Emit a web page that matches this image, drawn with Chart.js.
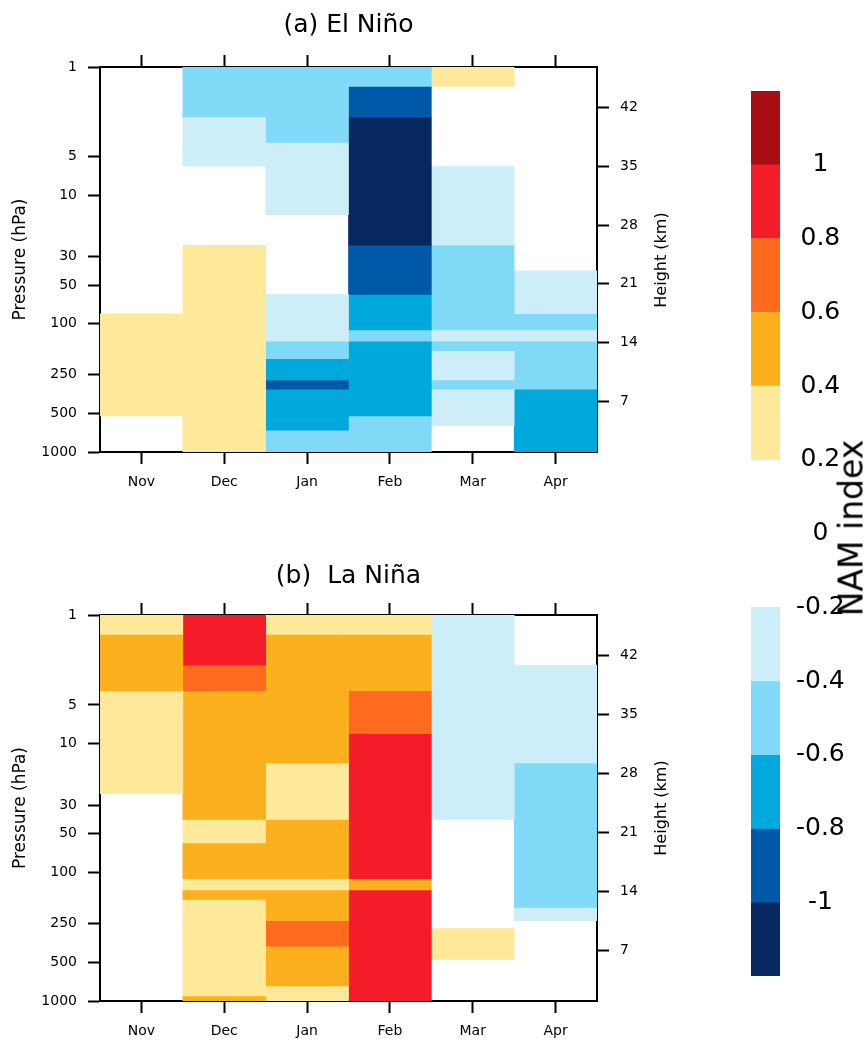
<!DOCTYPE html>
<html>
<head>
<meta charset="utf-8">
<script src="https://cdn.jsdelivr.net/npm/chart.js@4.4.0/dist/chart.umd.min.js"></script>
<style>
  body { margin: 0; background: #fff; }
  #wrap { position: relative; width: 868px; height: 1040px; overflow: hidden; }
  .box { position: absolute; }
  .vlabel { position: absolute; transform: translate(-50%, -50%) rotate(-90deg); font-family: "DejaVu Sans"; white-space: nowrap; color: #000; }
</style>
</head>
<body>
<div id="wrap">
  <div class="box" style="left:0;top:0;width:700px;height:520px"><canvas id="ninoChart"></canvas></div>
  <div class="box" style="left:0;top:548px;width:700px;height:492px"><canvas id="ninaChart"></canvas></div>
  <div class="box" style="left:700px;top:0;width:168px;height:1040px"><canvas id="barChart"></canvas></div>
  <div class="vlabel" style="left:660px;top:260px;font-size:16px">Height (km)</div>
  <div class="vlabel" style="left:660px;top:808px;font-size:16px">Height (km)</div>
  <div class="vlabel" style="left:851px;top:528px;font-size:33px">NAM index</div>
</div>
<script>
// months and model pressure levels (hPa)
const months = ['Nov', 'Dec', 'Jan', 'Feb', 'Mar', 'Apr'];
const levels = [1, 2, 3, 5, 7, 10, 20, 30, 50, 70, 100, 125, 150, 175, 200, 225, 250, 300, 350,
  400, 450, 500, 550, 600, 650, 700, 750, 775, 800, 825, 850, 875, 900, 925, 950, 975, 1000];
const pressureTicks = [1, 5, 10, 30, 50, 100, 250, 500, 1000];
const heightTicks = [7, 14, 21, 28, 35, 42];

// colour bins of the NAM index
const warmEdges = [0.2, 0.4, 0.6, 0.8, 1.0, 1.2];
const warmColors = ['#fee89a', '#fdb01e', '#fe6b1f', '#f41c29', '#a90e15'];
const coolEdges = [-0.2, -0.4, -0.6, -0.8, -1.0, -1.2];
const coolColors = ['#cdeef8', '#80d9f7', '#00a8db', '#0058a8', '#072760'];
const barTicks = [-1, -0.8, -0.6, -0.4, -0.2, 0, 0.2, 0.4, 0.6, 0.8, 1];

// composites: [top level, bottom level, NAM index], blank where not significant
const elNinoNov = [[100, 500, 0.3]];
const elNinoDec = [[1, 2, -0.5], [3, 5, -0.3], [30, 1000, 0.3]];
const elNinoJan = [[1, 3, -0.5], [5, 10, -0.3], [70, 125, -0.3], [150, 175, -0.5], [200, 250, -0.7],
  [300, 300, -0.9], [350, 650, -0.7], [700, 1000, -0.5]];
const elNinoFeb = [[1, 1, -0.5], [2, 2, -0.9], [3, 20, -1.1], [30, 50, -0.9], [70, 100, -0.7],
  [125, 125, -0.5], [150, 500, -0.7], [550, 1000, -0.5]];
const elNinoMar = [[1, 1, 0.3], [7, 20, -0.3], [30, 100, -0.5], [125, 125, -0.3], [150, 150, -0.5],
  [175, 250, -0.3], [300, 300, -0.5], [350, 600, -0.3]];
const elNinoApr = [[50, 70, -0.3], [100, 100, -0.5], [125, 125, -0.3], [150, 300, -0.5], [350, 1000, -0.7]];

const laNinaNov = [[1, 1, 0.3], [2, 3, 0.5], [5, 20, 0.3]];
const laNinaDec = [[1, 2, 0.9], [3, 3, 0.7], [5, 30, 0.5], [50, 50, 0.3], [70, 100, 0.5], [125, 125, 0.3],
  [150, 150, 0.5], [175, 900, 0.3], [925, 1000, 0.5]];
const laNinaJan = [[1, 1, 0.3], [2, 10, 0.5], [20, 30, 0.3], [50, 100, 0.5], [125, 125, 0.3],
  [150, 225, 0.5], [250, 350, 0.7], [400, 750, 0.5], [775, 1000, 0.3]];
const laNinaFeb = [[1, 1, 0.3], [2, 3, 0.5], [5, 7, 0.7], [10, 100, 0.9], [125, 125, 0.5], [150, 1000, 0.9]];
const laNinaMar = [[1, 30, -0.3], [300, 450, 0.3]];
const laNinaApr = [[3, 10, -0.3], [20, 175, -0.5], [200, 225, -0.3]];

Chart.defaults.font.family = 'DejaVu Sans';
Chart.defaults.color = '#000';

function colorFor(v) {
  if (v >= 0) {
    for (let i = 0; i < warmColors.length; i++) if (v < warmEdges[i + 1]) return warmColors[i];
    return warmColors[warmColors.length - 1];
  }
  for (let i = 0; i < coolColors.length; i++) if (v > coolEdges[i + 1]) return coolColors[i];
  return coolColors[coolColors.length - 1];
}

// cell edges sit half way (in log p) between neighbouring levels
function cellTop(p) {
  const i = levels.indexOf(p);
  return i === 0 ? p : Math.sqrt(levels[i - 1] * p);
}
function cellBottom(p) {
  const i = levels.indexOf(p);
  return i === levels.length - 1 ? p : Math.sqrt(levels[i + 1] * p);
}

const tickGrid = { drawOnChartArea: false, tickLength: 12, tickWidth: 2, tickColor: '#000' };
const frame = { color: '#000', width: 2 };

function panelChart(id, title, titlePad, bottomH, columns) {
  const datasets = [];
  columns.forEach((column, m) => {
    column.forEach(([top, bottom, value]) => {
      const data = months.map(() => null);
      data[m] = [cellTop(top), cellBottom(bottom)];
      datasets.push({
        data: data,
        backgroundColor: colorFor(value),
        borderWidth: 0,
        barPercentage: 1,
        categoryPercentage: 1
      });
    });
  });

  new Chart(document.getElementById(id), {
    type: 'bar',
    data: { labels: months, datasets: datasets },
    options: {
      responsive: true,
      maintainAspectRatio: false,
      animation: false,
      events: [],
      layout: { padding: 0 },
      plugins: {
        legend: { display: false },
        tooltip: { enabled: false },
        title: {
          display: true,
          text: title,
          fullSize: false,
          font: { size: 25, weight: 'normal' },
          color: '#000',
          padding: { top: titlePad, bottom: 17 - titlePad }
        }
      },
      scales: {
        x: {
          stacked: true,
          grid: { ...tickGrid, offset: false },
          border: frame,
          ticks: { font: { size: 14 }, padding: 10 },
          afterFit: s => { s.height = bottomH; }
        },
        xTop: {
          type: 'category',
          position: 'top',
          offset: true,
          grid: { ...tickGrid, offset: false },
          border: frame,
          ticks: { display: false },
          afterFit: s => { s.height = 20; }
        },
        y: {
          type: 'logarithmic',
          position: 'left',
          reverse: true,
          stacked: false,
          min: 1,
          max: 1000,
          grid: tickGrid,
          border: frame,
          afterBuildTicks: s => { s.ticks = pressureTicks.map(v => ({ value: v })); },
          ticks: { font: { size: 14 }, padding: 11, callback: v => String(v) },
          title: { display: true, text: 'Pressure (hPa)', font: { size: 17 }, padding: { top: 10, bottom: 0 } },
          afterFit: s => { s.width = 100; }
        },
        yHeight: {
          type: 'linear',
          position: 'right',
          min: 0.95,
          max: 46.85,
          grid: tickGrid,
          border: frame,
          afterBuildTicks: s => { s.ticks = heightTicks.map(v => ({ value: v })); },
          ticks: { font: { size: 14 }, padding: 11, callback: v => String(v) },
          afterFit: s => { s.width = 103; }
        }
      }
    }
  });
}

panelChart('ninoChart', '(a) El Niño', 10, 68,
  [elNinoNov, elNinoDec, elNinoJan, elNinoFeb, elNinoMar, elNinoApr]);
panelChart('ninaChart', '(b)  La Niña', 13, 39,
  [laNinaNov, laNinaDec, laNinaJan, laNinaFeb, laNinaMar, laNinaApr]);

// label bar for the NAM index
const barSets = [];
warmColors.forEach((c, i) => barSets.push({ data: [[warmEdges[i], warmEdges[i + 1]]], backgroundColor: c }));
coolColors.forEach((c, i) => barSets.push({ data: [[coolEdges[i + 1], coolEdges[i]]], backgroundColor: c }));
barSets.forEach(d => { d.borderWidth = 0; d.barPercentage = 1; d.categoryPercentage = 1; });

new Chart(document.getElementById('barChart'), {
  type: 'bar',
  data: { labels: [''], datasets: barSets },
  options: {
    responsive: true,
    maintainAspectRatio: false,
    animation: false,
    events: [],
    layout: { padding: { left: 51, top: 91, bottom: 64, right: 0 } },
    plugins: { legend: { display: false }, tooltip: { enabled: false } },
    scales: {
      x: { display: false, stacked: true },
      y: {
        position: 'right',
        min: -1.2,
        max: 1.2,
        stacked: false,
        grid: { display: false },
        border: { display: false },
        afterBuildTicks: s => { s.ticks = barTicks.map(v => ({ value: v })); },
        ticks: { font: { size: 25 }, crossAlign: 'center', padding: 8, callback: v => String(v) },
        afterFit: s => { s.width = 88; }
      }
    }
  }
});
</script>
</body>
</html>
